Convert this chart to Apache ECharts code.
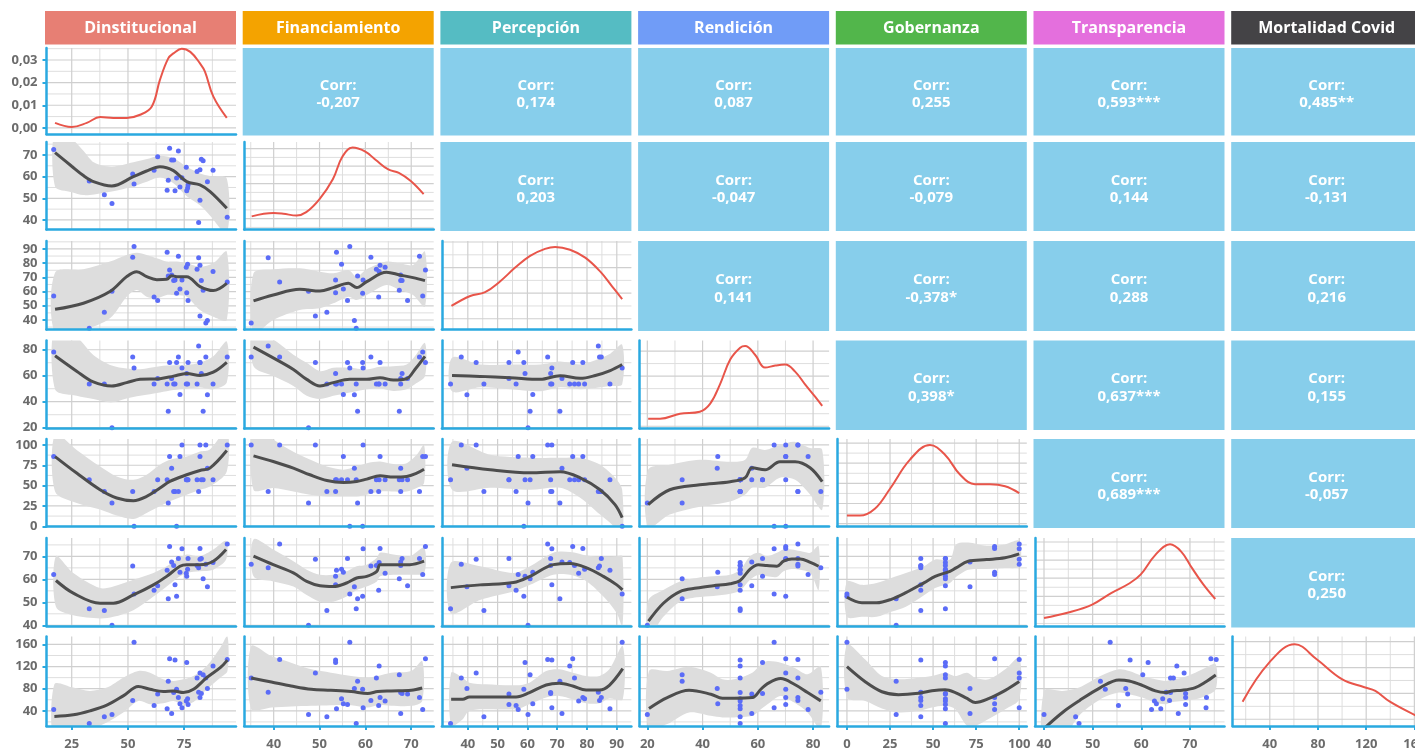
<!DOCTYPE html>
<html>
<head>
<meta charset="utf-8">
<title>Matriz de correlaciones</title>
<script src="https://cdn.jsdelivr.net/npm/echarts@6.0.0/dist/echarts.min.js"></script>
<style>
html,body{margin:0;padding:0;background:#ffffff;}
#chart{width:1415px;height:750px;}
</style>
</head>
<body>
<div id="chart"></div>
<script>
// ---------------- DATA ----------------
const variableNames = ['Dinstitucional','Financiamiento','Percepción','Rendición','Gobernanza','Transparencia','Mortalidad Covid'];
const stripColors = ['#E77F74','#F4A300','#55BCC3','#709CF7','#52B64B','#E46FDD','#444346'];

// 32 observations (same order in every array)
const dinstitucional = [52.7,68.5,94.1,70.9,76.1,87.8,82.0,83.4,80.7,84.6,67.9,85.3,71.6,81.4,70.3,82.6,63.2,72.4,82.0,76.5,52.1,75.9,73.1,76.7,61.6,74.0,67.4,17.0,69.4,42.9,39.5,32.8];
const financiamiento = [56.6,73.1,41.3,53.5,53.5,63.0,49.1,67.4,62.4,35.1,58.3,57.6,59.4,38.8,67.7,68.0,69.2,71.8,63.2,54.8,61.2,64.3,55.2,56.1,62.9,59.5,53.7,72.5,67.7,47.6,51.6,58.0];
const percepcion = [91.8,75.2,66.8,68.2,59.2,74.2,42.8,60.9,75.8,37.8,70.9,39.7,58.8,83.8,67.8,67.8,53.8,84.8,78.6,79.2,84.2,77.2,61.8,53.8,56.2,68.2,87.7,56.9,71.6,60.2,45.4,34.2];
const rendicion = [65.9,70.1,74.5,53.6,61.7,53.6,70.1,32.6,53.6,74.5,32.6,45.3,70.1,82.8,53.6,61.7,57.8,74.5,70.1,53.6,74.5,53.6,45.5,70.1,53.6,65.9,53.6,78.2,57.8,20.0,53.6,53.6];
const gobernanza = [0,85.71,100,42.86,57.14,57.14,100,57.14,57.14,100,28.57,71.43,0,42.86,42.86,57.14,57.14,42.86,85.71,57.14,42.86,57.14,85.71,57.14,42.86,100,57.14,85.71,71.43,28.57,42.86,57.14];
const transparencia = [53.6,74.3,75.4,57.7,61.4,67.3,68.8,60.3,66.0,66.6,51.6,56.8,52.6,65.1,66.0,69.1,57.2,69.1,73.4,64.4,65.8,62.7,63.1,69.1,55.3,73.3,64.0,62.1,67.6,40.0,46.5,47.2];
const mortalidad = [164,134.2,133,131.8,127.6,121,108.4,105.4,99.4,99.4,93.4,80.2,79.0,73.6,73.0,71.2,70.6,64.0,64.0,61.7,58.6,58.0,52.6,51.5,49.7,45.4,43.7,42.5,35.3,33.5,29.3,17.3];

// correlation labels, upper triangle, row by row
const corrText = ['-0,207','0,174','0,087','0,255','0,593***','0,485**',
                  '0,203','-0,047','-0,079','0,144','-0,131',
                  '0,141','-0,378*','0,288','0,216',
                  '0,398*','0,637***','0,155',
                  '0,689***','-0,057',
                  '0,250'];

// axis ranges (as drawn in the panels) and breaks per variable
const xRangeMin = [13.8, 33.57, 31.3, 17.2, -5.6, 38.15, 9.2];
const xRangeMax = [98.0, 74.9, 94.9, 85.8, 104.4, 77.1, 166.5];
const yRangeMin = [0, 35.6, 33.3, 19.4, -0.3, 39.7, 12.6];
const yRangeMax = [0, 76.0, 95.6, 87.1, 107.3, 78.0, 174.4];
const majorTicks = [[25,50,75],[40,50,60,70],[40,50,60,70,80,90],[20,40,60,80],[0,25,50,75,100],[40,50,60,70],[40,80,120,160]];
const minorTicks = [[12.5,37.5,62.5,87.5],[35,45,55,65,75],[35,45,55,65,75,85,95],[10,30,50,70],[12.5,37.5,62.5,87.5],[35,45,55,65,75],[20,60,100,140]];

// density (diagonal) scales
const densMin = [-0.0027, 0.0038, -0.0042, -0.0009, -0.0007, 0.0036, -0.0013];
const densMax = [0.0353, 0.0538, 0.0304, 0.0342, 0.0210, 0.0522, 0.0160];
const densMajor = [[0,0.01,0.02,0.03],[0.01,0.02,0.03,0.04,0.05],[0,0.01,0.02,0.03],[0,0.01,0.02,0.03],[0,0.005,0.01,0.015,0.02],[0.01,0.02,0.03,0.04,0.05],[0,0.005,0.01,0.015]];
const densMinor = [[0.005,0.015,0.025,0.035],[0.005,0.015,0.025,0.035,0.045],[0.005,0.015,0.025],[0.005,0.015,0.025],[0.0025,0.0075,0.0125,0.0175],[0.005,0.015,0.025,0.035,0.045],[0.0025,0.0075,0.0125]];

// density curves [x, density]
const densDin = [[17.6,0.0022],[25,0.0004],[31.7,0.0022],[37.6,0.0048],[43.5,0.0044],[49.4,0.0044],[55.4,0.0058],[60.6,0.0095],[64.2,0.0212],[67.9,0.0307],[70.2,0.0329],[73.9,0.0350],[77.7,0.0336],[82,0.0285],[84.2,0.0249],[87.9,0.0139],[93.9,0.0044]];
const densFin = [[35.2,0.0113],[40,0.0132],[42.1,0.0128],[45,0.0118],[47.1,0.0137],[50,0.0212],[52.9,0.0325],[55,0.0455],[57.2,0.0506],[59.9,0.0484],[62.2,0.0437],[65,0.0381],[67.3,0.0362],[69.9,0.0315],[72.7,0.0240]];
const densPer = [[34.5,0.0050],[40.8,0.0089],[45.8,0.0104],[50.8,0.0146],[55.9,0.0200],[60.9,0.0246],[65.9,0.0273],[69.3,0.0281],[74.3,0.0270],[79.4,0.0239],[84.4,0.0185],[88.4,0.0127],[91.8,0.0077]];
const densRen = [[20.3,0.0030],[24.6,0.0030],[31.8,0.0050],[39,0.0058],[42.7,0.0089],[46.3,0.0167],[50,0.0266],[53.6,0.0313],[55.4,0.0320],[59,0.0285],[62.6,0.0234],[66.3,0.0242],[69.9,0.0246],[73.5,0.0218],[77.1,0.0167],[80.8,0.0117],[83.3,0.0081]];
const densGob = [[0,0.0020],[7.5,0.0020],[16.2,0.0037],[24.9,0.0086],[36.6,0.0159],[48.2,0.0195],[56.9,0.0171],[65.6,0.0122],[74.3,0.0098],[83,0.0098],[91.8,0.0093],[100,0.0076]];
const densTra = [[40,0.0080],[44.8,0.0109],[49.8,0.0153],[53.8,0.0218],[57.6,0.0272],[59.9,0.0321],[62.9,0.0429],[65.9,0.0487],[68.2,0.0447],[70.4,0.0357],[72.7,0.0267],[75.2,0.0185]];
const densMor = [[17.4,0.0034],[39.3,0.0109],[60.7,0.0145],[78.9,0.0116],[100.2,0.0077],[118.5,0.0062],[127.6,0.0055],[139.7,0.0034],[160.5,0.0008],[164,0.0005]];

// loess fits [x, fit, lower, upper]
const fitFinDin = [[17.6,71.1,55.4,82],[25,64.8,52.8,77.5],[30.2,60.5,51.5,72],[35,57.6,51.8,66.5],[42.8,55.7,53.1,64.6],[52.4,60,55.4,66.6],[58,62.5,57.5,68],[64.2,64.6,59.6,69.7],[70.2,62.8,57,68.5],[76.1,57.7,51,64.6],[82,56.2,46.8,61.5],[86.5,53.1,42,60.3],[93.9,45.4,33.8,59.2]];
const fitPerDin = [[17.6,47.5,30.6,73.3],[30.2,51.8,33,75.7],[42,60,41.2,81.1],[49.4,70.5,56.4,85.8],[53.9,74,61.1,87.4],[58.3,70.5,56.4,85.8],[62.8,68.4,55.3,83.5],[67.2,68.6,57.6,81.1],[69.4,71.2,57.6,81.1],[71.7,70.5,57.6,81.1],[76.1,70.5,56.4,79.9],[82,63.5,47,77.5],[87.9,60.7,42.3,79.9],[93.9,65.8,40,88.1]];
const fitRenDin = [[17.6,75.4,49.6,100],[27.2,63.5,44.5,90],[34.6,55.2,42,76],[42.8,52.1,39.5,67.8],[49.4,54.7,42.5,65.5],[55.4,57.2,44.5,65],[64.2,57.7,47.1,67.3],[70.2,59.7,49,68],[76.1,61.8,50,68.3],[82,60.2,50.9,70],[87.9,62.7,49.6,74.9],[93.9,70.3,54.7,86.3]];
const fitGobDin = [[17.6,85.7,42.8,113.5],[27.2,65.4,28.6,93.9],[37.6,44.9,20.5,73.5],[45,34.7,13.1,61.3],[52.4,31.5,9.0,57.1],[58.3,36.7,16.4,63.3],[64.2,47.0,24.5,75.6],[68.6,55.1,30.6,81.7],[76.1,63.3,38.8,85.7],[82,68.6,44.9,91.8],[86.4,71.5,48.9,94.4],[93.9,93.1,67.4,118.3]];
const fitTraDin = [[18,59.5,48.1,70.1],[25.7,54,44.4,62.8],[37.6,49.6,43,56.2],[43.5,49.6,43.7,56.9],[52.4,53.2,46.6,59.8],[61.3,57.6,52.5,62.8],[67.2,61.3,56.9,65.7],[73.1,65.7,61.3,69.4],[76.1,66.4,62.8,70.8],[82,66.4,63.5,70.1],[87.9,67.9,64.2,73],[93.6,73,68.6,76.7]];
const fitMorDin = [[17.3,29.9,-25,88],[25.7,32.8,-15,82],[33.1,40,5,76],[40.6,50.3,19.1,82],[47.9,67,37.1,100],[54.6,83.9,58,112],[59.8,79,52,109],[65.7,74.9,53.8,97],[70.2,76,58,94],[74.6,73.1,52,97],[79.1,79,56.2,103],[85,100,79,121],[91,118,100,154],[94.2,131.7,112,175]];
const fitPerFin = [[35.6,53.4,30.6,72.9],[39.9,57.6,40,75.7],[45.7,61.6,47,76.4],[50.1,60.4,48.2,74],[53,62.8,51.7,72.9],[56.3,65.8,56.4,75.2],[58.1,62.8,54.1,70.5],[60.3,67,57.6,75.7],[64.6,73.6,64.6,81.1],[67.5,71.7,61.1,79.9],[70.4,69.8,57.6,78.7],[73,67.7,49.4,88.1]];
const fitRenFin = [[35.6,82,67.3,95],[39.9,73.7,59.7,88],[44.3,64.8,52.1,76.2],[47.2,57.2,44.5,69.9],[50.1,52.1,42,63.5],[53,54.7,44.5,66.1],[56.6,57.2,47.1,66.1],[60.3,57.2,49.6,64.8],[63.2,58.5,50.1,66.9],[66.1,56.7,48.3,67.3],[69,57.7,49.6,68.6],[70.8,64.8,53.4,74.9],[73,74.9,59.7,85.1]];
const fitGobFin = [[35.6,86.6,44.9,123],[39.9,79.6,47.0,106.8],[44.3,71.5,42.8,91.5],[47.9,63.3,38.8,82],[51.6,56.3,36.7,73.4],[55.2,53.9,36.7,69.6],[58.1,55.1,36.7,73.5],[60.3,58,38.8,77.6],[63.2,62.1,42.8,79.6],[66.1,60.5,42.8,76.7],[69,61.3,42.8,77.6],[71.2,65.4,47.0,87.8],[72.8,70.2,53.1,100]];
const fitTraFin = [[35.6,70.1,61.3,77.4],[39.9,66.4,59.1,73],[44.3,62.8,56.9,67.9],[47.2,59.1,53.2,64.2],[50.1,57.2,50.3,62],[53,56.9,50.3,62],[55.9,58.4,52.5,63.5],[58.1,60.6,55.4,65.7],[60.3,61.3,56.9,66.4],[62.5,63.5,59.1,69.4],[63.2,66.4,61.3,71.6],[66.1,66.4,62,70.8],[69.7,66.4,62,70.1],[72.8,67.9,62.8,73.8]];
const fitMorFin = [[35.1,99.4,43,157],[39.5,92.2,46,139],[43.8,85,47.9,127],[48.2,79,49,115],[52.5,77.2,50.3,109],[56.9,74.9,50.3,103],[60.5,71.3,46,100],[62.7,74.9,50.3,103],[65.6,76,49,109],[70,77.2,49,112],[72.4,81.4,58,130]];
const fitRenPer = [[34.7,60.2,48.1,73.9],[44.1,59.5,51.1,68.6],[54.2,58.5,49.6,68.6],[64.3,57.2,48.1,68.6],[71,60,51.1,70.9],[77.7,58,49.6,68.6],[82.8,60.2,50.5,72],[87.8,64,52,77],[91.8,68.6,53.4,83.8]];
const fitGobPer = [[34.7,75.6,44.9,103.9],[47.5,69.4,47.4,87.8],[60.9,65.7,44.9,84.1],[71,67.0,47.4,84.1],[77.7,59.6,35.2,84.1],[84.4,44.9,14.4,75.6],[89.4,26.6,-1.6,59.6],[91.8,10.6,-15.4,44.9]];
const fitTraPer = [[34.3,56.4,45.2,67.2],[44.1,57.6,51,65.7],[55.3,58.6,54.7,62.8],[60.9,61.3,57.6,65.7],[68.7,66.4,62,71.6],[74.3,66.9,62,71.9],[79.9,65,59.1,70.4],[85.5,61.3,52.5,69.8],[90,57.6,45.2,70.1],[91.9,55.4,39.3,70.1]];
const fitMorPer = [[34.4,61,13,109],[38.3,61,25,100],[40.5,65.2,40,91],[46.1,65.2,43,88],[56.2,65.2,43,86.2],[60.7,73.1,52,91],[66.3,86.8,64,112],[70.7,89.8,67,115],[75.2,85,61,109],[79.7,77.8,53.8,103],[84.2,77.8,53.8,103],[87.5,86.2,62.3,115],[92,116.3,61,157]];
const fitGobRen = [[20.3,26.6,-1.6,69.4],[28.1,44.9,14.4,75.6],[39,51,24.1,81.7],[50,54.8,30.4,79.2],[55.4,59.6,39,81.7],[57.9,71.9,47.4,96.3],[62.6,69.4,47.4,93.9],[68,79.2,59.6,100],[73.5,79.2,57.1,103.7],[78.9,71.9,39,96.3],[83.3,54.8,20.2,93.9]];
const fitTraRen = [[20.4,41.8,34.8,51],[25.8,49.6,43.7,55.4],[31.8,54.7,50.3,59.1],[37.9,56.2,52.2,60.6],[43.9,57.2,52.8,61.3],[50,58.1,53.7,62],[53.6,59.5,55.1,64.2],[57.2,64.5,59.8,70.1],[60.2,66.4,62,71.6],[63.3,66,61.3,70.1],[66.9,65.7,61,71.6],[69.3,67.9,63.5,73],[72.3,68.9,64.5,73],[75.3,68.9,64.2,72.3],[79,67.4,62.8,71.6],[82,65.7,55.4,74.5]];
const fitMorRen = [[20.6,44.3,7.1,112],[27.2,64,16,112],[35.1,77.2,37.1,119.8],[43,70,31,109],[47.2,62.8,28.1,97],[51.4,62.8,28.1,97],[58,64,31,109],[61.1,79,43,124],[63.5,89.3,52,130],[68.3,98.3,67,127],[73.2,88,55,118],[78,73.1,37.1,106],[82.8,58,7.1,119.8]];
const fitTraGob = [[0,52.2,43.7,59.1],[8.7,49.8,43.7,57.6],[17.2,49.8,43.7,58.4],[25.7,51.3,45.9,60.6],[34.2,54.2,48.1,62.8],[44.9,58.6,53.2,65.7],[51.2,61.3,56.2,68.6],[59.8,63.5,58.4,68.6],[63.3,65,61,75.2],[70.4,67.9,64.2,76],[81.1,68.6,64.5,74.5],[91.7,69.4,64.9,75.2],[100,71.1,65.7,76.7]];
const fitMorGob = [[0,119.8,64,160],[10.6,92.5,58,133],[20.3,74.5,44.3,103],[29.9,69.3,37.1,97],[41.6,71.8,40,100],[49.3,76.2,46,103],[57,78,49,109],[62.9,73,43,103],[69.7,62.5,13,109],[74.5,55,13,100],[82.2,62,25.1,97],[91.9,77,43,115],[100,92.9,61,136]];
const fitMorTra = [[40,8,-50,76],[43.8,37.1,-15,76],[47.2,58,31,82.1],[51.6,82.1,61,103],[55.4,95.8,73.1,115],[57.5,94,70,112],[60.2,86.2,64,103],[62.9,76,55,97],[65,73.1,52,94],[66.3,76,56.2,97],[68.4,77.2,58,100],[71.1,82.1,61,109],[73.2,92.2,67,118],[75.3,104.8,79,124]];

// ---------------- BUILD ----------------
const varData = [dinstitucional, financiamiento, percepcion, rendicion, gobernanza, transparencia, mortalidad];
const densities = [densDin, densFin, densPer, densRen, densGob, densTra, densMor];
const fitPanels = [
  [1,0,fitFinDin],[2,0,fitPerDin],[3,0,fitRenDin],[4,0,fitGobDin],[5,0,fitTraDin],[6,0,fitMorDin],
  [2,1,fitPerFin],[3,1,fitRenFin],[4,1,fitGobFin],[5,1,fitTraFin],[6,1,fitMorFin],
  [3,2,fitRenPer],[4,2,fitGobPer],[5,2,fitTraPer],[6,2,fitMorPer],
  [4,3,fitGobRen],[5,3,fitTraRen],[6,3,fitMorRen],
  [5,4,fitTraGob],[6,4,fitMorGob],
  [6,5,fitMorTra]
];
const fitLookup = {};
fitPanels.forEach(p => { fitLookup[p[0] + '-' + p[1]] = p[2]; });

const BLUE = '#2AA9E0';
const FONT = "'Open Sans', 'Noto Sans', sans-serif";
const colX = j => 45 + j * 197.7;
const PW = 191;
const rowTop = [48, 142, 241, 340.5, 439, 538, 636.5];
const rowBottom = [135.5, 231, 331, 430, 528, 627.5, 727.5];

const grids = [], xAxes = [], yAxes = [], series = [], elements = [];
const labelStyle = {color: '#6b6b6b', fontSize: 13, fontWeight: 'bold', fontFamily: FONT};

function gridSeries(g, xMaj, xMnr, yMaj, yMnr, xLo, xHi, yLo, yHi) {
  const data = [];
  const inX = v => v >= xLo && v <= xHi;
  const inY = v => v >= yLo && v <= yHi;
  xMnr.filter(inX).forEach(v => data.push([v, 0, 0]));
  yMnr.filter(inY).forEach(v => data.push([v, 1, 0]));
  xMaj.filter(inX).forEach(v => data.push([v, 0, 1]));
  yMaj.filter(inY).forEach(v => data.push([v, 1, 1]));
  return {
    type: 'custom', xAxisIndex: g, yAxisIndex: g, silent: true, z: 1, data: data,
    renderItem: function (params, api) {
      const v = api.value(0), o = api.value(1), m = api.value(2);
      const cs = params.coordSys;
      let shape;
      if (o === 0) {
        const px = api.coord([v, yLo])[0];
        shape = {x1: px, y1: cs.y, x2: px, y2: cs.y + cs.height};
      } else {
        const py = api.coord([xLo, v])[1];
        shape = {x1: cs.x, y1: py, x2: cs.x + cs.width, y2: py};
      }
      return {type: 'line', shape: shape, style: {stroke: m ? '#CFCFCF' : '#DEDEDE', lineWidth: m ? 1.2 : 1}};
    }
  };
}

function ribbonSeries(g, fit) {
  return {
    type: 'custom', xAxisIndex: g, yAxisIndex: g, silent: true, clip: true, z: 2,
    data: [[fit[0][0], fit[0][1]]],
    renderItem: function (params, api) {
      const up = fit.map(p => api.coord([p[0], p[3]]));
      const lo = fit.slice().reverse().map(p => api.coord([p[0], p[2]]));
      return {type: 'polygon', shape: {points: up.concat(lo), smooth: 0.3}, style: {fill: '#DDDDDD'}};
    }
  };
}

// strips
variableNames.forEach((name, j) => {
  elements.push({type: 'rect', shape: {x: colX(j), y: 11, width: PW, height: 33.5}, style: {fill: stripColors[j]}});
  elements.push({type: 'text', x: colX(j) + PW / 2, y: 28.5,
    style: {text: name, fill: '#ffffff', fontSize: 16, fontWeight: 'bold', fontFamily: FONT,
            align: 'center', verticalAlign: 'middle', textAlign: 'center', textVerticalAlign: 'middle'}});
});

let k = 0;
for (let r = 0; r < 7; r++) {
  for (let c = 0; c < 7; c++) {
    const x0 = colX(c), y0 = rowTop[r], h = rowBottom[r] - rowTop[r];
    if (r < c) {
      elements.push({type: 'rect', shape: {x: x0, y: y0, width: PW, height: h}, style: {fill: '#87CEEB'}});
      elements.push({type: 'text', x: x0 + PW / 2, y: y0 + h / 2 + 2.5,
        style: {text: 'Corr:\n' + corrText[k++], fill: '#ffffff', fontSize: 15, fontWeight: 'bold', fontFamily: FONT,
                lineHeight: 17.5, align: 'center', verticalAlign: 'middle', textAlign: 'center', textVerticalAlign: 'middle'}});
      continue;
    }
    const g = grids.length;
    grids.push({left: x0 + 1.5, top: y0, width: PW - 1.5, height: h - 1.5, outerBoundsMode: 'none', containLabel: false});
    const isDiag = r === c;
    const yLo = isDiag ? densMin[c] : yRangeMin[r];
    const yHi = isDiag ? densMax[c] : yRangeMax[r];
    const yLabelVals = isDiag ? [0, 0.01, 0.02, 0.03] : majorTicks[r];
    xAxes.push({
      gridIndex: g, type: 'value', min: xRangeMin[c], max: xRangeMax[c], z: 6,
      axisLine: {show: true, onZero: false, lineStyle: {color: BLUE, width: 2.5}},
      axisTick: {show: r === 6, customValues: majorTicks[c], length: 4, lineStyle: {color: BLUE, width: 2}},
      axisLabel: Object.assign({show: r === 6, customValues: majorTicks[c], margin: 12}, labelStyle),
      splitLine: {show: false}, minorSplitLine: {show: false}
    });
    yAxes.push({
      gridIndex: g, type: 'value', min: yLo, max: yHi, z: 6,
      axisLine: {show: true, onZero: false, lineStyle: {color: BLUE, width: 2.5}},
      axisTick: {show: c === 0, customValues: yLabelVals, length: 4, lineStyle: {color: BLUE, width: 2}},
      axisLabel: Object.assign({show: c === 0, customValues: yLabelVals, margin: 9,
        formatter: isDiag ? (v => Number(v).toFixed(2).replace('.', ',')) : (v => String(v))}, labelStyle),
      splitLine: {show: false}, minorSplitLine: {show: false}
    });
    const yMaj = isDiag ? densMajor[c] : majorTicks[r];
    const yMnr = isDiag ? densMinor[c] : minorTicks[r];
    series.push(gridSeries(g, majorTicks[c], minorTicks[c], yMaj, yMnr, xRangeMin[c], xRangeMax[c], yLo, yHi));
    if (isDiag) {
      series.push({type: 'line', xAxisIndex: g, yAxisIndex: g, data: densities[c], smooth: 0.4,
        showSymbol: false, silent: true, z: 3, lineStyle: {color: '#E8554A', width: 2}});
    } else {
      const fit = fitLookup[r + '-' + c];
      series.push(ribbonSeries(g, fit));
      const pts = varData[c].map((v, i) => [v, varData[r][i]]);
      series.push({type: 'scatter', xAxisIndex: g, yAxisIndex: g, data: pts, symbol: 'circle', symbolSize: 5,
        silent: true, z: 3, itemStyle: {color: '#5B6CF7', opacity: 1}});
      series.push({type: 'line', xAxisIndex: g, yAxisIndex: g, data: fit.map(p => [p[0], p[1]]), smooth: 0.35,
        showSymbol: false, silent: true, z: 4, lineStyle: {color: '#4D4D4D', width: 3}});
    }
  }
}

const chart = echarts.init(document.getElementById('chart'), null, {renderer: 'canvas'});
chart.setOption({
  animation: false,
  backgroundColor: '#ffffff',
  textStyle: {fontFamily: FONT},
  grid: grids,
  xAxis: xAxes,
  yAxis: yAxes,
  series: series,
  graphic: {elements: elements}
});
</script>
</body>
</html>
